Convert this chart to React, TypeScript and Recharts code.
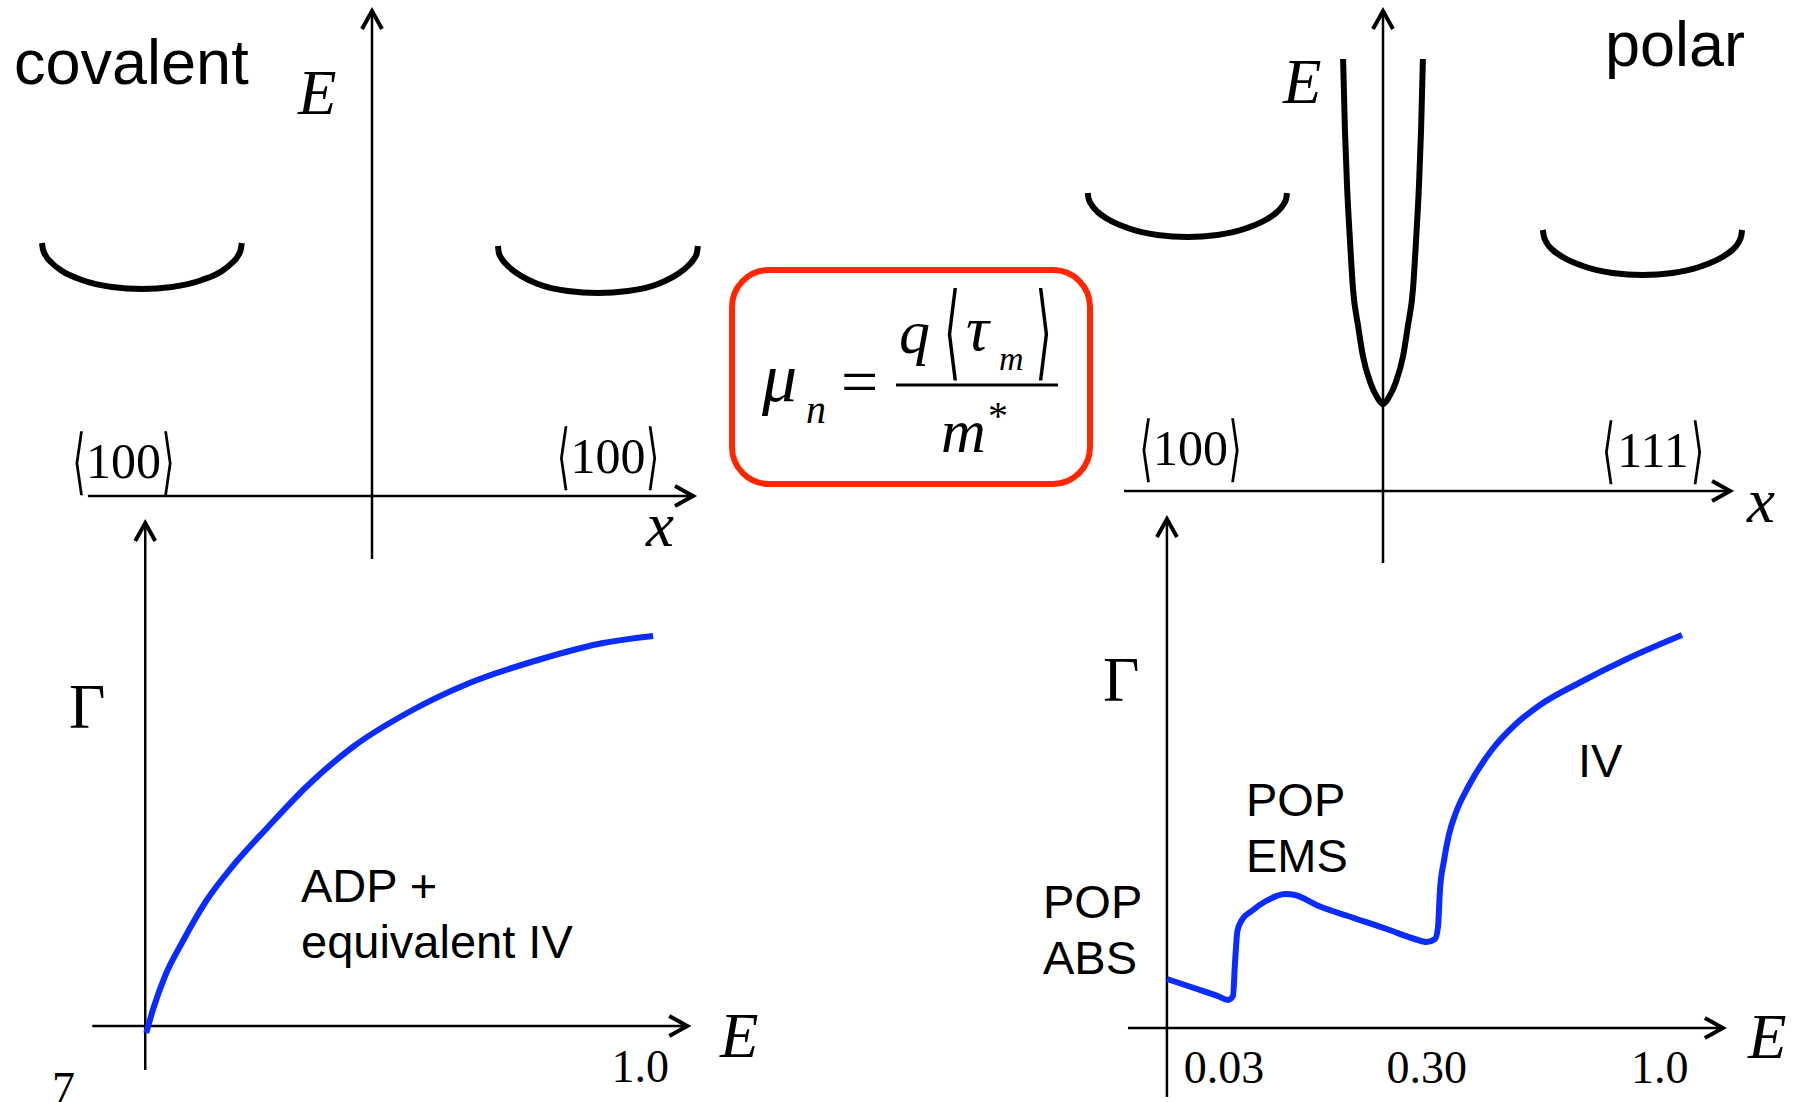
import React from "react";
import { ComposedChart, Line, XAxis, YAxis, ReferenceLine } from "recharts";

// covalent band sketch: k along <100>, E in arbitrary units
const COV_VALLEY_L = [
  { k: -1.100, E: 2.53 }, { k: -1.097, E: 2.47 }, { k: -1.087, E: 2.40 }, { k: -1.067, E: 2.33 },
  { k: -1.033, E: 2.25 }, { k: -0.967, E: 2.16 }, { k: -0.867, E: 2.09 }, { k: -0.767, E: 2.07 },
  { k: -0.667, E: 2.09 }, { k: -0.567, E: 2.16 }, { k: -0.500, E: 2.25 }, { k: -0.467, E: 2.33 },
  { k: -0.447, E: 2.40 }, { k: -0.437, E: 2.47 }, { k: -0.434, E: 2.53 },
];
const COV_VALLEY_R = [
  { k: 0.420, E: 2.50 }, { k: 0.423, E: 2.43 }, { k: 0.433, E: 2.37 }, { k: 0.453, E: 2.30 },
  { k: 0.487, E: 2.22 }, { k: 0.553, E: 2.12 }, { k: 0.653, E: 2.05 }, { k: 0.753, E: 2.03 },
  { k: 0.853, E: 2.05 }, { k: 0.953, E: 2.12 }, { k: 1.019, E: 2.22 }, { k: 1.053, E: 2.30 },
  { k: 1.073, E: 2.37 }, { k: 1.083, E: 2.43 }, { k: 1.086, E: 2.50 },
];
const COV_H_AXIS = [-0.947, 1.07];
const COV_V_AXIS = [-0.63, 4.85];

// polar band sketch
const POL_VALLEY_L = [
  { k: -0.984, E: 2.98 }, { k: -0.981, E: 2.92 }, { k: -0.971, E: 2.86 }, { k: -0.951, E: 2.79 },
  { k: -0.918, E: 2.72 }, { k: -0.851, E: 2.63 }, { k: -0.752, E: 2.56 }, { k: -0.652, E: 2.54 },
  { k: -0.552, E: 2.56 }, { k: -0.453, E: 2.63 }, { k: -0.386, E: 2.72 }, { k: -0.353, E: 2.79 },
  { k: -0.333, E: 2.86 }, { k: -0.323, E: 2.92 }, { k: -0.320, E: 2.98 },
];
const POL_GAMMA = [
  { k: -0.133, E: 4.32 }, { k: -0.127, E: 3.62 }, { k: -0.120, E: 3.06 }, { k: -0.110, E: 2.50 },
  { k: -0.100, E: 2.02 }, { k: -0.083, E: 1.65 }, { k: -0.067, E: 1.35 }, { k: -0.043, E: 1.09 },
  { k: -0.020, E: 0.94 }, { k: 0, E: 0.87 }, { k: 0.020, E: 0.94 }, { k: 0.043, E: 1.09 },
  { k: 0.067, E: 1.35 }, { k: 0.083, E: 1.65 }, { k: 0.100, E: 2.02 }, { k: 0.110, E: 2.50 },
  { k: 0.120, E: 3.06 }, { k: 0.127, E: 3.62 }, { k: 0.133, E: 4.32 },
];
const POL_VALLEY_R = [
  { k: 0.533, E: 2.61 }, { k: 0.536, E: 2.55 }, { k: 0.546, E: 2.48 }, { k: 0.566, E: 2.41 },
  { k: 0.599, E: 2.34 }, { k: 0.666, E: 2.25 }, { k: 0.765, E: 2.18 }, { k: 0.865, E: 2.16 },
  { k: 0.965, E: 2.18 }, { k: 1.064, E: 2.25 }, { k: 1.131, E: 2.34 }, { k: 1.164, E: 2.41 },
  { k: 1.184, E: 2.48 }, { k: 1.194, E: 2.55 }, { k: 1.197, E: 2.61 },
];
const POL_H_AXIS = [-0.863, 1.157];
const POL_V_AXIS = [-0.72, 4.80];

// scattering rate Γ(E), covalent: ADP + equivalent IV
const COV_RATE = [
  { E: 0.002, G: -0.07 }, { E: 0.016, G: 0.17 }, { E: 0.040, G: 0.50 }, { E: 0.075, G: 0.84 },
  { E: 0.123, G: 1.25 }, { E: 0.180, G: 1.62 }, { E: 0.248, G: 1.99 }, { E: 0.325, G: 2.39 },
  { E: 0.422, G: 2.80 }, { E: 0.529, G: 3.13 }, { E: 0.655, G: 3.43 }, { E: 0.800, G: 3.67 },
  { E: 0.915, G: 3.82 }, { E: 1.026, G: 3.90 },
];
const COV_RATE_TICKS = [1.0];
const COV_RATE_LABELS = ["1.0"];
const COV_RATE_H_AXIS = [-0.107, 1.095];
const COV_RATE_V_AXIS = [-0.44, 5.03];

// scattering rate Γ(E), polar (schematic energy axis)
const POL_RATE = [
  { E: 0.000, G: 0.49 }, { E: 0.055, G: 0.40 }, { E: 0.103, G: 0.32 }, { E: 0.124, G: 0.28 },
  { E: 0.134, G: 0.32 }, { E: 0.138, G: 0.64 }, { E: 0.143, G: 0.97 }, { E: 0.152, G: 1.08 },
  { E: 0.172, G: 1.17 }, { E: 0.201, G: 1.27 }, { E: 0.241, G: 1.34 }, { E: 0.260, G: 1.33 },
  { E: 0.308, G: 1.22 }, { E: 0.367, G: 1.12 }, { E: 0.446, G: 0.99 }, { E: 0.503, G: 0.89 },
  { E: 0.527, G: 0.86 }, { E: 0.544, G: 0.89 }, { E: 0.550, G: 1.01 }, { E: 0.554, G: 1.38 },
  { E: 0.562, G: 1.67 }, { E: 0.572, G: 1.93 }, { E: 0.586, G: 2.15 }, { E: 0.611, G: 2.41 },
  { E: 0.659, G: 2.78 }, { E: 0.708, G: 3.04 }, { E: 0.757, G: 3.23 }, { E: 0.836, G: 3.45 },
  { E: 0.933, G: 3.69 }, { E: 1.045, G: 3.93 },
];
const POL_RATE_TICKS = [0.116, 0.527, 1.0];
const POL_RATE_LABELS = ["0.03", "0.30", "1.0"];
const POL_RATE_H_AXIS = [-0.079, 1.128];
const POL_RATE_V_AXIS = [-0.69, 5.09];

const SERIF = '"Liberation Serif", "Times New Roman", serif';
const SANS = '"Liberation Sans", Arial, sans-serif';
const BLUE = "#0a2cff";
const RED = "#ff2600";

// axis line with an open arrow head at its end
const arrow = (p: any) => {
  const { x1, y1, x2, y2 } = p;
  const dx = x2 - x1, dy = y2 - y1;
  const len = Math.hypot(dx, dy) || 1;
  const ux = dx / len, uy = dy / len;
  const L = 18, W = 10;
  const bx = x2 - ux * L, by = y2 - uy * L;
  return (
    <g>
      <line x1={x1} y1={y1} x2={x2} y2={y2} stroke="#000" strokeWidth={2.5} />
      <polyline
        points={`${bx - uy * W},${by + ux * W} ${x2},${y2} ${bx + uy * W},${by - ux * W}`}
        fill="none" stroke="#000" strokeWidth={4}
      />
    </g>
  );
};

function BandChart({ left, top, hAxis, vAxis, curves }: any) {
  return (
    <div style={{ position: "absolute", left, top }}>
      <ComposedChart width={765} height={580} margin={{ top: 0, right: 0, bottom: 0, left: 0 }}>
        <XAxis type="number" dataKey="k" domain={[-1.25, 1.3]} hide />
        <YAxis type="number" domain={[-0.8, 5.0]} hide />
        <ReferenceLine segment={[{ x: hAxis[0], y: 0 }, { x: hAxis[1], y: 0 }]} ifOverflow="visible" shape={arrow} />
        <ReferenceLine segment={[{ x: 0, y: vAxis[0] }, { x: 0, y: vAxis[1] }]} ifOverflow="visible" shape={arrow} />
        {curves.map((c: any, i: number) => (
          <Line key={i} data={c} dataKey="E" type="monotone" stroke="#000" strokeWidth={6}
            dot={false} activeDot={false} isAnimationActive={false} />
        ))}
      </ComposedChart>
    </div>
  );
}

function RateChart({ left, top, width, data, ticks, labels, hAxis, vAxis, tickMargin }: any) {
  return (
    <div style={{ position: "absolute", left, top }}>
      <ComposedChart width={width} height={596} margin={{ top: 0, right: 0, bottom: 0, left: 0 }}>
        <XAxis
          type="number" dataKey="E" domain={[-0.15, 1.25]} ticks={ticks} interval={0}
          tickFormatter={(v: number) => labels[ticks.indexOf(v)] ?? ""}
          axisLine={false} tickLine={false} height={66} tickMargin={tickMargin}
          tick={{ fontFamily: SERIF, fontSize: 46, fill: "#000" }}
        />
        <YAxis type="number" domain={[-0.1, 5.2]} hide />
        <ReferenceLine segment={[{ x: hAxis[0], y: 0 }, { x: hAxis[1], y: 0 }]} ifOverflow="visible" shape={arrow} />
        <ReferenceLine segment={[{ x: 0, y: vAxis[0] }, { x: 0, y: vAxis[1] }]} ifOverflow="visible" shape={arrow} />
        <Line data={data} dataKey="G" type="monotone" stroke={BLUE} strokeWidth={6}
          dot={false} activeDot={false} isAnimationActive={false} />
      </ComposedChart>
    </div>
  );
}

function Bracket({ x, y, side, size = 48, sx = 0.7, sy = 1.5 }: any) {
  return (
    <text transform={`translate(${x} ${y}) scale(${sx} ${sy})`} fontFamily='"DejaVu Serif", serif'
      fontSize={size} textAnchor={side === "l" ? "start" : "end"} fill="#000">
      {side === "l" ? "⟨" : "⟩"}
    </text>
  );
}

function Miller({ cx, y, label }: any) {
  return (
    <g>
      <Bracket x={cx - 51} y={y + 8} side="l" />
      <text x={cx} y={y} textAnchor="middle" fontFamily={SERIF} fontSize={50} fill="#000">{label}</text>
      <Bracket x={cx + 51} y={y + 8} side="r" />
    </g>
  );
}

function Overlay() {
  const it = { fontFamily: SERIF, fontStyle: "italic", fill: "#000" } as const;
  const up = { fontFamily: SERIF, fill: "#000" } as const;
  const sans = { fontFamily: SANS, fill: "#000" } as const;
  return (
    <svg width={1801} height={1102} style={{ position: "absolute", left: 0, top: 0, pointerEvents: "none" }}>
      {/* top-left */}
      <text x={14} y={84} fontSize={63} {...sans}>covalent</text>
      <text x={298} y={114} fontSize={63} {...it}>E</text>
      <text x={646} y={546} fontSize={63} {...it}>x</text>
      <Miller cx={123.5} y={478} label="100" />
      <Miller cx={608} y={473} label="100" />
      {/* top-right */}
      <text x={1605} y={66} fontSize={63} {...sans}>polar</text>
      <text x={1283} y={103} fontSize={63} {...it}>E</text>
      <text x={1747} y={522} fontSize={63} {...it}>x</text>
      <Miller cx={1190.5} y={465} label="100" />
      <Miller cx={1653} y={467} label="111" />
      {/* bottom-left */}
      <text x={69} y={728} fontSize={63} {...up}>Γ</text>
      <text x={720} y={1057} fontSize={63} {...it}>E</text>
      <text x={301} y={902} fontSize={47} {...sans}>ADP +</text>
      <text x={301} y={958} fontSize={47} {...sans}>equivalent IV</text>
      <text x={52} y={1104} fontSize={46} {...up}>7</text>
      {/* bottom-right */}
      <text x={1103} y={701} fontSize={63} {...up}>Γ</text>
      <text x={1748} y={1058} fontSize={63} {...it}>E</text>
      <text x={1043} y={918} fontSize={47} {...sans}>POP</text>
      <text x={1043} y={974} fontSize={47} {...sans}>ABS</text>
      <text x={1246} y={816} fontSize={47} {...sans}>POP</text>
      <text x={1246} y={872} fontSize={47} {...sans}>EMS</text>
      <text x={1578} y={777} fontSize={47} {...sans}>IV</text>
      {/* mobility formula */}
      <rect x={732} y={270} width={358} height={214} rx={37} fill="#fff" stroke={RED} strokeWidth={6} />
      <text x={762} y={401} fontSize={70} {...it}>μ</text>
      <text x={806} y={423} fontSize={40} {...it}>n</text>
      <text x={841} y={404} fontSize={66} {...up}>=</text>
      <line x1={896} y1={385} x2={1058} y2={385} stroke="#000" strokeWidth={3} />
      <text x={899} y={353} fontSize={62} {...it}>q</text>
      <Bracket x={944} y={367} side="l" size={60} sx={0.7} sy={1.73} />
      <text x={966} y={350} fontSize={64} {...it}>τ</text>
      <text x={999} y={370} fontSize={34} {...it}>m</text>
      <Bracket x={1052} y={367} side="r" size={60} sx={0.7} sy={1.73} />
      <text x={941} y={452} fontSize={62} {...it}>m</text>
      <text x={988} y={429} fontSize={40} {...up}>*</text>
    </svg>
  );
}

export default function App() {
  return (
    <div style={{ position: "absolute", left: 0, top: 0, width: 1801, height: 1102, overflow: "hidden", background: "#fff" }}>
      <BandChart left={-3} top={-4} hAxis={COV_H_AXIS} vAxis={COV_V_AXIS} curves={[COV_VALLEY_L, COV_VALLEY_R]} />
      <BandChart left={1008} top={-9} hAxis={POL_H_AXIS} vAxis={POL_V_AXIS} curves={[POL_VALLEY_L, POL_GAMMA, POL_VALLEY_R]} />
      <RateChart left={71} top={506} width={693} data={COV_RATE} ticks={COV_RATE_TICKS} labels={COV_RATE_LABELS}
        hAxis={COV_RATE_H_AXIS} vAxis={COV_RATE_V_AXIS} tickMargin={7} />
      <RateChart left={1093} top={508} width={690} data={POL_RATE} ticks={POL_RATE_TICKS} labels={POL_RATE_LABELS}
        hAxis={POL_RATE_H_AXIS} vAxis={POL_RATE_V_AXIS} tickMargin={6} />
      <Overlay />
    </div>
  );
}
